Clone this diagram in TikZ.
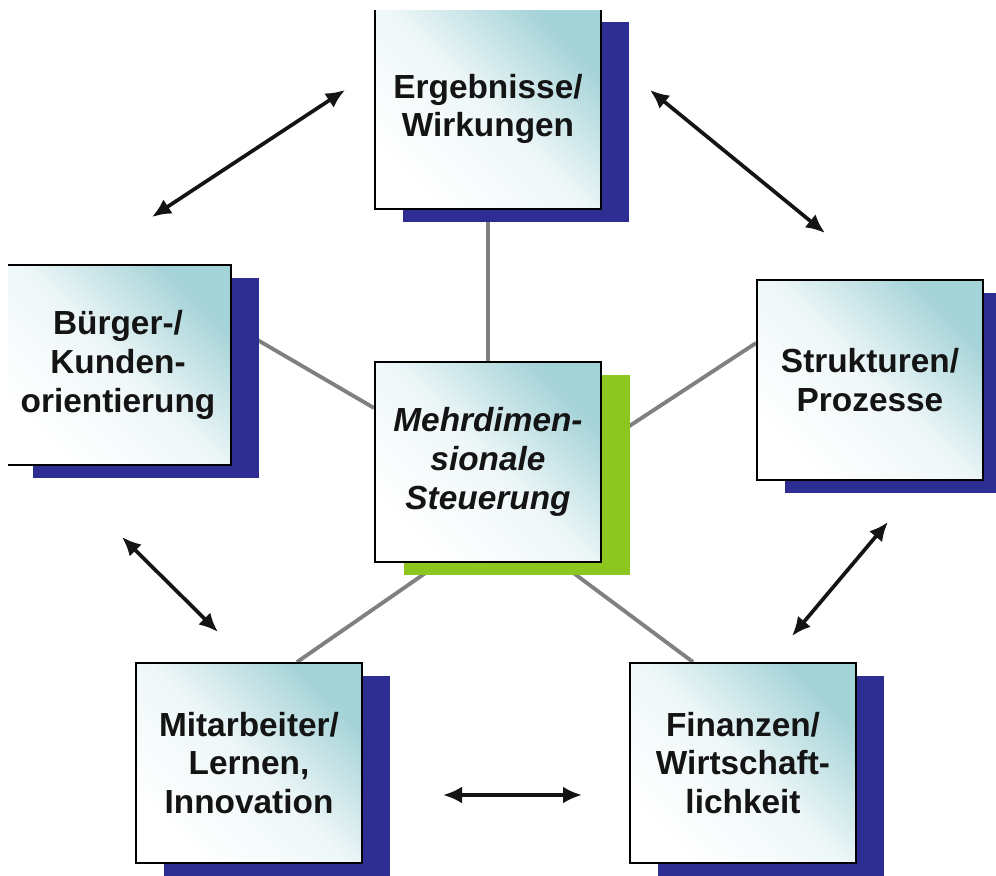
\documentclass[tikz,border=0pt]{standalone}
\usepackage{fontspec}
\setmainfont{Liberation Sans}
\definecolor{ShadowBlue}{RGB}{46,46,146}
\definecolor{ShadowLime}{RGB}{141,198,31}
\definecolor{CardTeal}{RGB}{163,210,215}
\definecolor{LinkGray}{RGB}{128,128,128}
\definecolor{InkDark}{RGB}{20,20,20}
\usetikzlibrary{arrows.meta, shadows, calc, backgrounds}

\begin{document}
\begin{tikzpicture}[x=0.02cm, y=-0.02cm,
    card/.style={draw=black, line width=1.1pt, minimum width=4.52cm, minimum height=4cm,
      inner sep=0pt, align=center, text=InkDark, font=\bfseries\fontsize{19}{22}\selectfont,
      shading=axis, top color=CardTeal, bottom color=white, middle color=CardTeal!18!white,
      shading angle=-45},
    bluecard/.style={card, drop shadow={shadow xshift=0.56cm, shadow yshift=-0.26cm,
      fill=ShadowBlue, opacity=1}},
    limecard/.style={card, font=\bfseries\itshape\fontsize{19}{22}\selectfont,
      drop shadow={shadow xshift=0.58cm, shadow yshift=-0.26cm, fill=ShadowLime, opacity=1}},
    link/.style={draw=LinkGray, line width=2.2pt},
    twoway/.style={{Latex[length=3.8mm,width=3.4mm]}-{Latex[length=3.8mm,width=3.4mm]},
      line width=2.1pt, InkDark}]
  \useasboundingbox (0,0) rectangle (996,875);
  \clip (8,11) rectangle (996,875);

  % the six cards
  \node[bluecard] (erg) at (488,109) {Ergebnisse/\\Wirkungen};
  \node[bluecard] (buerger) at (118,365) {Bürger-/\\Kunden-\\orientierung};
  \node[bluecard] (struk) at (870,380) {Strukturen/\\Prozesse};
  \node[limecard] (steuer) at (488,462) {Mehrdimen-\\sionale\\Steuerung};
  \node[bluecard] (mitarb) at (249,763) {Mitarbeiter/\\Lernen,\\Innovation};
  \node[bluecard] (finanz) at (743,763) {Finanzen/\\Wirtschaft-\\lichkeit};

  % grey links to the centre, behind the shadows
  \begin{scope}[on background layer]
    \draw[link] (erg.south) -- (steuer.north);
    \draw[link] ($(buerger.east)+(0,-40)$) -- ($(steuer.west)+(0,-54)$);
    \draw[link] ($(steuer.east)+(0,-18)$) -- ($(struk.west)+(0,-37)$);
    \draw[link] ($(steuer.south)+(-48,0)$) -- ($(mitarb.north)+(48,0)$);
    \draw[link] ($(steuer.south)+(72,0)$) -- ($(finanz.north)+(-50,0)$);
  \end{scope}

  % arrows between neighbours
  \coordinate (be1) at (152,217);
  \coordinate (be2) at (345,90);
  \coordinate (es1) at (650,90);
  \coordinate (es2) at (825,233);
  \coordinate (bm1) at (122,537);
  \coordinate (bm2) at (218,632);
  \coordinate (sf1) at (888,522);
  \coordinate (sf2) at (792,636);
  \coordinate (mf1) at (443,795);
  \coordinate (mf2) at (582,795);
  \draw[twoway] (be1) -- (be2);
  \draw[twoway] (es1) -- (es2);
  \draw[twoway] (bm1) -- (bm2);
  \draw[twoway] (sf1) -- (sf2);
  \draw[twoway] (mf1) -- (mf2);
\end{tikzpicture}
\end{document}
